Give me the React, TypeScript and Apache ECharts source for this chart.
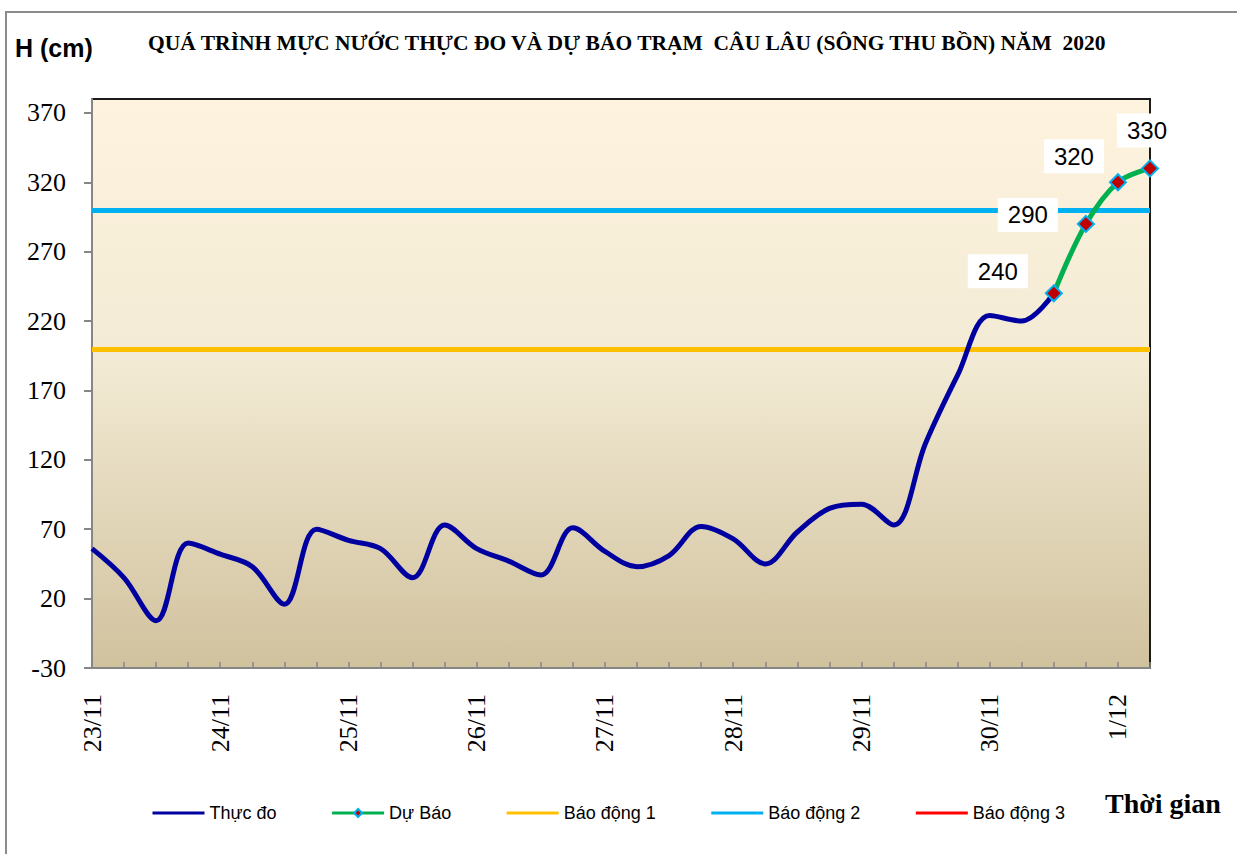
import React, { useEffect, useRef } from "react";
import * as echarts from "echarts";

// ---- data ----
const days = ["23/11", "24/11", "25/11", "26/11", "27/11", "28/11", "29/11", "30/11", "1/12"];
const hours = ["00h", "06h", "12h", "18h"];
const pointCount = 34;
const categories: string[] = [];
days.forEach((d) => hours.forEach((h) => categories.push(d + " " + h)));
const timeCategories = categories.slice(0, pointCount);

const observed = [
  56, 35, 4, 60, 52, 43, 16, 70, 62, 56, 35,
  73, 56, 47, 37, 71, 54, 43, 51, 72, 63, 45,
  68, 85, 88, 73, 132, 181, 224, 220, 240,
];
const forecastStartIndex = 30;
const forecast = [240, 290, 320, 330];
const alarm1 = 200;
const alarm2 = 300;
const yTicks = [-30, 20, 70, 120, 170, 220, 270, 320, 370];
const legendNames = ["Thực đo", "Dự Báo", "Báo động 1", "Báo động 2", "Báo động 3"];

const titleText = "QUÁ TRÌNH MỰC NƯỚC THỰC ĐO VÀ DỰ BÁO TRẠM  CÂU LÂU (SÔNG THU BỒN) NĂM  2020";

// label placement (style only)
const labelOffsets = [
  [-56, -22],
  [-58, -9],
  [-44, -26],
  [-3, -38],
];

export default function App() {
  const ref = useRef<HTMLDivElement>(null);
  useEffect(() => {
    if (!ref.current) return;
    const chart = echarts.init(ref.current, null, { renderer: "svg" });

    const forecastData: any[] = timeCategories.map(() => null);
    forecast.forEach((v, i) => {
      forecastData[forecastStartIndex + i] = {
        value: v,
        label: { offset: labelOffsets[i] },
      };
    });

    const gray = "#868686";
    chart.setOption({
      animation: false,
      backgroundColor: "#ffffff",
      title: [
        {
          text: titleText,
          left: 148,
          top: 32,
          padding: 0,
          textStyle: {
            fontFamily: "Liberation Serif",
            fontWeight: "bold",
            fontSize: 21.5,
            color: "#000",
          },
        },
        {
          text: "H (cm)",
          left: 15,
          top: 35,
          padding: 0,
          textStyle: {
            fontFamily: "Liberation Sans",
            fontWeight: "bold",
            fontSize: 25,
            color: "#000",
          },
        },
        {
          text: "Thời gian",
          left: 1105,
          top: 789,
          padding: 0,
          textStyle: {
            fontFamily: "Liberation Serif",
            fontWeight: "bold",
            fontSize: 28,
            color: "#000",
          },
        },
      ],
      graphic: [
        {
          type: "rect",
          shape: { x: 6, y: 12, width: 1260, height: 900 },
          style: { fill: "none", stroke: "#8c8c8c", lineWidth: 2 },
          z: -1,
        },
      ],
      legend: {
        left: 151,
        top: 804,
        itemWidth: 52,
        itemHeight: 10,
        itemGap: 54,
        padding: 0,
        textStyle: { fontFamily: "Liberation Sans", fontSize: 18, color: "#000" },
        lineStyle: { width: 3 },
        data: legendNames.map((n) =>
          n === "Dự Báo" ? { name: n } : { name: n, itemStyle: { opacity: 0 } }
        ),
      },
      grid: {
        left: 92,
        top: 99,
        width: 1058,
        height: 569,
        show: true,
        borderColor: "#1a1a1a",
        borderWidth: 2,
        backgroundColor: {
          type: "linear",
          x: 0,
          y: 0,
          x2: 0,
          y2: 1,
          colorStops: [
            { offset: 0, color: "#FEF3DE" },
            { offset: 0.45, color: "#F3EBD5" },
            { offset: 1, color: "#D1C29E" },
          ],
        },
      },
      xAxis: {
        type: "category",
        data: timeCategories,
        boundaryGap: false,
        axisLine: { onZero: false, lineStyle: { color: gray, width: 2 } },
        axisTick: { inside: true, length: 6, interval: 0, lineStyle: { color: gray, width: 1.5 } },
        axisLabel: {
          interval: 3,
          rotate: 90,
          margin: 26,
          fontFamily: "Liberation Serif",
          fontSize: 26,
          color: "#000",
          formatter: (v: string) => v.split(" ")[0],
        },
        splitLine: { show: false },
      },
      yAxis: {
        type: "value",
        min: -30,
        max: 380,
        interval: 50,
        axisLine: { show: true, lineStyle: { color: gray, width: 2 } },
        axisTick: { show: true, length: 8, customValues: yTicks, lineStyle: { color: gray, width: 2 } },
        axisLabel: {
          customValues: yTicks,
          margin: 26,
          fontFamily: "Liberation Serif",
          fontSize: 26,
          color: "#000",
        },
        splitLine: { show: false },
      },
      series: [
        {
          name: "Báo động 1",
          type: "line",
          data: [],
          symbol: "none",
          lineStyle: { color: "#FFC000", width: 5 },
          itemStyle: { color: "#FFC000" },
          markLine: {
            silent: true,
            z: 1,
            symbol: ["none", "none"],
            label: { show: false },
            lineStyle: { color: "#FFC000", width: 5, type: "solid" },
            data: [{ yAxis: alarm1 }],
          },
          z: 1,
        },
        {
          name: "Báo động 2",
          type: "line",
          data: [],
          symbol: "none",
          lineStyle: { color: "#00B0F0", width: 5 },
          itemStyle: { color: "#00B0F0" },
          markLine: {
            silent: true,
            z: 1,
            symbol: ["none", "none"],
            label: { show: false },
            lineStyle: { color: "#00B0F0", width: 5, type: "solid" },
            data: [{ yAxis: alarm2 }],
          },
          z: 1,
        },
        {
          name: "Báo động 3",
          type: "line",
          data: [],
          symbol: "none",
          lineStyle: { color: "#FF0000", width: 5 },
          itemStyle: { color: "#FF0000" },
        },
        {
          name: "Thực đo",
          type: "line",
          data: observed,
          smooth: 0.35,
          symbol: "none",
          lineStyle: { color: "#0000A0", width: 5 },
          itemStyle: { color: "#0000A0" },
          z: 3,
        },
        {
          name: "Dự Báo",
          type: "line",
          data: forecastData,
          smooth: 0.35,
          symbol: "diamond",
          symbolSize: 16,
          showSymbol: true,
          lineStyle: { color: "#00B050", width: 5 },
          itemStyle: { color: "#C00000", borderColor: "#00B0F0", borderWidth: 2 },
          label: {
            show: true,
            position: "inside",
            formatter: "{c}",
            fontFamily: "Liberation Sans",
            fontSize: 24,
            color: "#000",
            backgroundColor: "#ffffff",
            padding: [5, 10],
          },
          z: 4,
        },
      ],
    });
    return () => chart.dispose();
  }, []);

  return (
    <div
      ref={ref}
      style={{ position: "absolute", left: 0, top: 0, width: "1237px", height: "854px" }}
    />
  );
}
